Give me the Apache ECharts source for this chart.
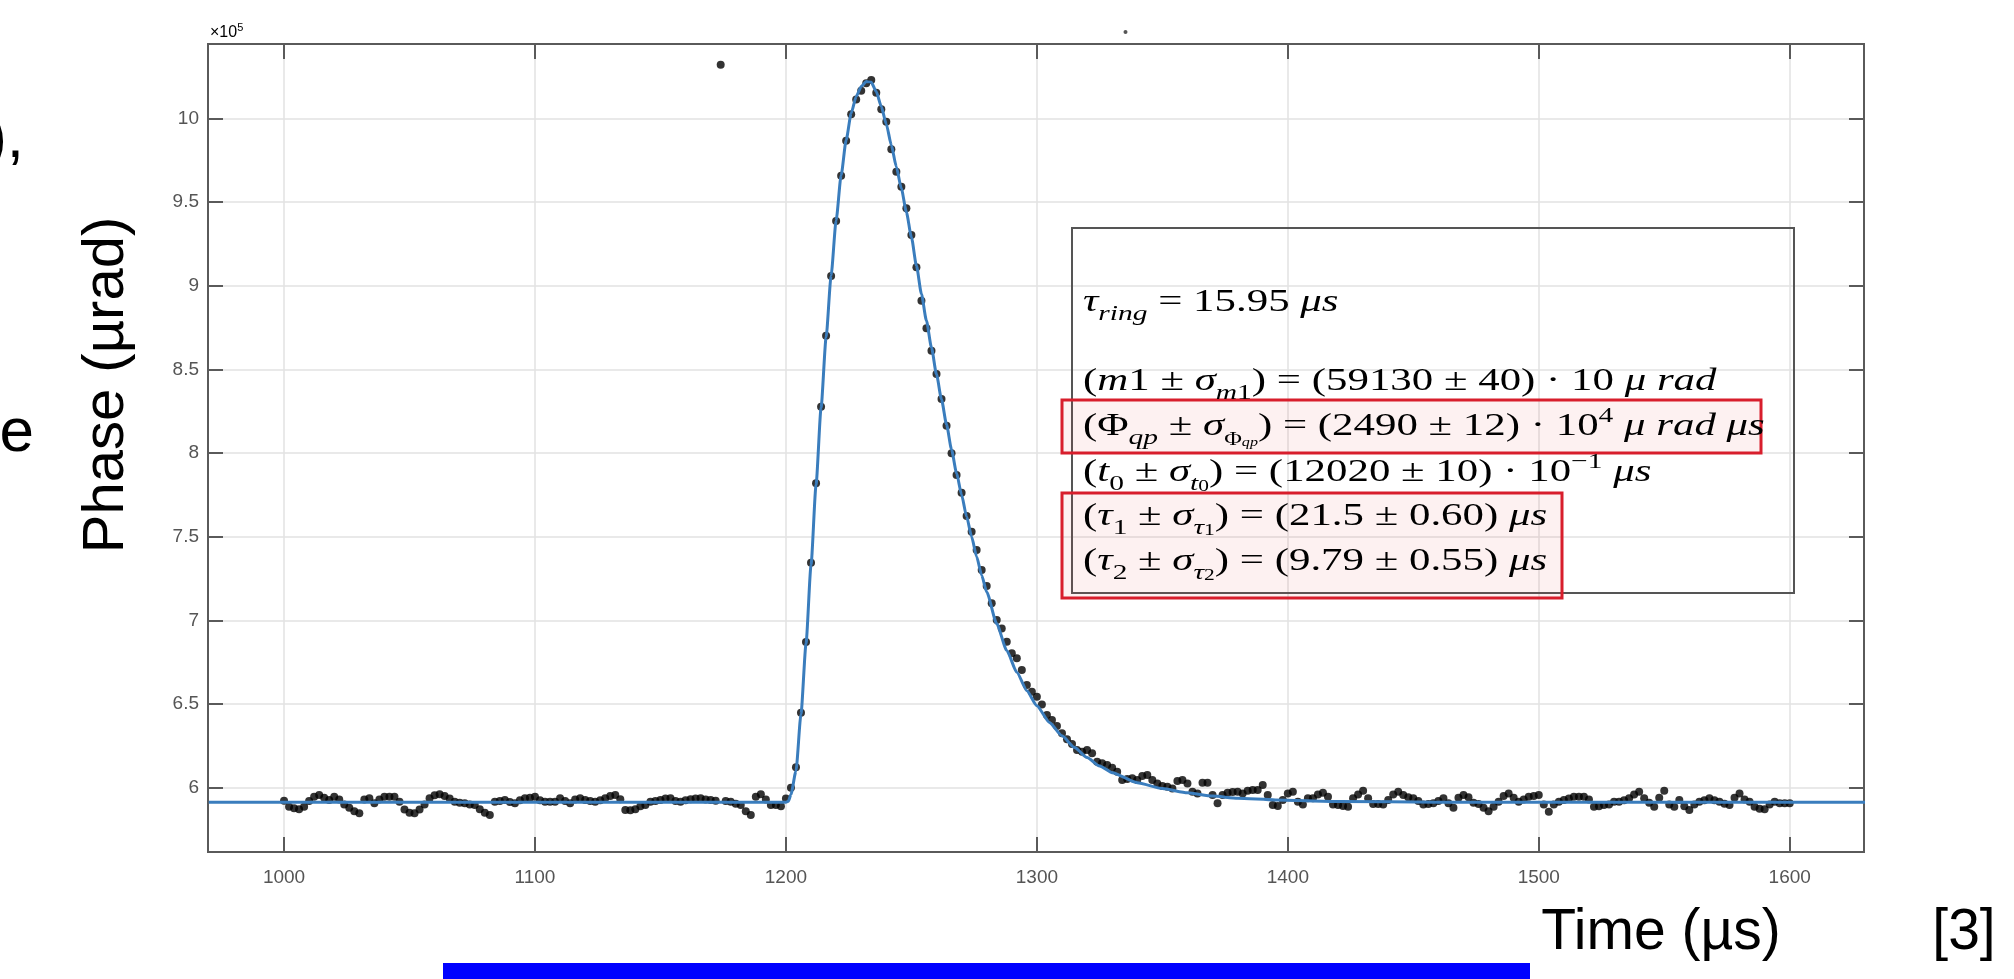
<!DOCTYPE html>
<html>
<head>
<meta charset="utf-8">
<title>Phase vs time</title>
<script src="https://cdn.jsdelivr.net/npm/echarts@6/dist/echarts.min.js"></script>
<style>
  html, body { margin: 0; padding: 0; background: #fff; }
  #chart { width: 2014px; height: 979px; }
</style>
</head>
<body>
<div id="chart"></div>
<script>
// measured phase (units of 1e5 µrad), one sample every 2 µs starting at 1000 µs
const t0 = 1000;
const dt = 2;
const phase = [
  5.922, 5.886, 5.878, 5.871, 5.886, 5.920, 5.946, 5.956, 5.940, 5.927,
  5.946, 5.930, 5.900, 5.880, 5.860, 5.847, 5.930, 5.937, 5.907, 5.930,
  5.946, 5.946, 5.946, 5.916, 5.870, 5.850, 5.847, 5.870, 5.900, 5.937,
  5.955, 5.961, 5.950, 5.935, 5.916, 5.910, 5.907, 5.900, 5.897, 5.871,
  5.850, 5.837, 5.916, 5.920, 5.927, 5.915, 5.907, 5.925, 5.937, 5.940,
  5.946, 5.925, 5.916, 5.916, 5.916, 5.937, 5.920, 5.907, 5.930, 5.937,
  5.927, 5.920, 5.916, 5.925, 5.937, 5.950, 5.956, 5.931, 5.867, 5.865,
  5.871, 5.890, 5.897, 5.916, 5.920, 5.927, 5.935, 5.937, 5.920, 5.916,
  5.925, 5.931, 5.935, 5.937, 5.930, 5.927, 5.922, 10.32, 5.920, 5.916,
  5.905, 5.897, 5.860, 5.837, 5.946, 5.961, 5.930, 5.897, 5.897, 5.890,
  5.935, 6.000, 6.122, 6.448, 6.871, 7.345, 7.819, 8.277, 8.701, 9.058,
  9.386, 9.657, 9.866, 10.024, 10.113, 10.165, 10.209, 10.229, 10.153, 10.054,
  9.980, 9.815, 9.681, 9.591, 9.462, 9.303, 9.110, 8.910, 8.745, 8.611,
  8.472, 8.323, 8.163, 7.998, 7.869, 7.763, 7.624, 7.530, 7.420, 7.301,
  7.205, 7.102, 7.002, 6.952, 6.872, 6.803, 6.773, 6.703, 6.614, 6.574,
  6.544, 6.498, 6.434, 6.405, 6.369, 6.325, 6.289, 6.261, 6.225, 6.215,
  6.225, 6.206, 6.155, 6.146, 6.136, 6.120, 6.096, 6.046, 6.052, 6.056,
  6.046, 6.070, 6.076, 6.046, 6.026, 6.010, 6.006, 5.996, 6.040, 6.046,
  6.026, 5.976, 5.966, 6.030, 6.030, 5.956, 5.907, 5.956, 5.970, 5.974,
  5.976, 5.966, 5.982, 5.986, 5.986, 6.016, 5.956, 5.897, 5.891, 5.927,
  5.966, 5.976, 5.916, 5.900, 5.937, 5.937, 5.960, 5.970, 5.946, 5.900,
  5.897, 5.891, 5.886, 5.937, 5.960, 5.982, 5.937, 5.903, 5.903, 5.900,
  5.927, 5.960, 5.976, 5.956, 5.943, 5.937, 5.920, 5.900, 5.903, 5.907,
  5.920, 5.937, 5.907, 5.880, 5.940, 5.956, 5.943, 5.910, 5.903, 5.880,
  5.860, 5.886, 5.916, 5.950, 5.966, 5.940, 5.916, 5.930, 5.946, 5.950,
  5.956, 5.900, 5.857, 5.900, 5.916, 5.927, 5.935, 5.946, 5.946, 5.946,
  5.930, 5.886, 5.890, 5.897, 5.900, 5.916, 5.916, 5.925, 5.937, 5.960,
  5.976, 5.937, 5.910, 5.886, 5.940, 5.982, 5.900, 5.886, 5.927, 5.890,
  5.867, 5.900, 5.916, 5.925, 5.937, 5.925, 5.916, 5.905, 5.897, 5.940,
  5.966, 5.930, 5.916, 5.886, 5.875, 5.871, 5.900, 5.916, 5.907, 5.907,
  5.907
];

// fitted curve
const fitTime = [970, 1200, 1201, 1202, 1204, 1206, 1208, 1210, 1212, 1214,
  1216, 1218, 1220, 1222, 1224, 1226, 1228, 1230, 1232, 1234,
  1236, 1238, 1240, 1242, 1244, 1246, 1248, 1250, 1252, 1254,
  1256, 1258, 1260, 1262, 1264, 1266, 1268, 1270, 1272, 1274,
  1276, 1278, 1280, 1284, 1288, 1292, 1296, 1300, 1305, 1310,
  1315, 1320, 1325, 1330, 1340, 1350, 1360, 1370, 1380, 1395,
  1420, 1460, 1630];
const fitPhase = [5.913, 5.913, 5.92, 5.96, 6.10, 6.44, 6.86, 7.33, 7.81, 8.27,
  8.69, 9.06, 9.39, 9.66, 9.87, 10.03, 10.13, 10.19, 10.22, 10.215,
  10.16, 10.07, 9.965, 9.84, 9.71, 9.58, 9.44, 9.29, 9.12, 8.95,
  8.79, 8.63, 8.47, 8.32, 8.17, 8.02, 7.88, 7.75, 7.62, 7.50,
  7.38, 7.27, 7.17, 6.98, 6.82, 6.69, 6.58, 6.49, 6.39, 6.31,
  6.24, 6.18, 6.13, 6.09, 6.03, 5.995, 5.97, 5.95, 5.937, 5.927,
  5.918, 5.914, 5.913];

const xTicks = [1000, 1100, 1200, 1300, 1400, 1500, 1600];
const yTicks = [6, 6.5, 7, 7.5, 8, 8.5, 9, 9.5, 10];

const chart = echarts.init(document.getElementById('chart'));

const points = phase.map((v, i) => [t0 + i * dt, v]);
const fit = fitTime.map((t, i) => [t, fitPhase[i]]);

const axisGrey = '#5a5a5a';
const gridGrey = '#e2e2e2';
const labelFont = {color: '#555', fontSize: 19, fontFamily: 'Liberation Sans'};
const serif = 'Liberation Serif';

function tickAxis(pos, ticks, min, max, labels) {
  return {
    type: 'value', min: min, max: max, position: pos,
    axisLine: {show: false},
    axisTick: {show: true, inside: true, length: 15, customValues: ticks,
      lineStyle: {color: axisGrey, width: 2}},
    axisLabel: Object.assign({show: labels, customValues: ticks,
      margin: pos === 'bottom' ? 16 : 9,
      formatter: v => String(Math.round(v * 10) / 10)}, labelFont),
    splitLine: {show: labels, lineStyle: {color: gridGrey, width: 1.5}}
  };
}

// rich styles for the fit-result box (LaTeX-like)
const rich = {
  n: {fontSize: 32, fontFamily: serif, lineHeight: 44, color: '#111'},
  i: {fontSize: 32, fontFamily: serif, fontStyle: 'italic', lineHeight: 44, color: '#111'},
  sb: {fontSize: 22, fontFamily: serif, fontStyle: 'italic', lineHeight: 24, verticalAlign: 'bottom', color: '#111'},
  sbn: {fontSize: 22, fontFamily: serif, lineHeight: 24, verticalAlign: 'bottom', color: '#111'},
  sbs: {fontSize: 18, fontFamily: serif, lineHeight: 22, verticalAlign: 'bottom', color: '#111'},
  ssb: {fontSize: 16, fontFamily: serif, fontStyle: 'italic', lineHeight: 14, verticalAlign: 'bottom', color: '#111'},
  ssbs: {fontSize: 12, fontFamily: serif, fontStyle: 'italic', lineHeight: 10, verticalAlign: 'bottom', color: '#111'},
  ssbn: {fontSize: 16, fontFamily: serif, lineHeight: 14, verticalAlign: 'bottom', color: '#111'},
  sp: {fontSize: 22, fontFamily: serif, lineHeight: 20, verticalAlign: 'top', color: '#111'}
};

const boxLines = [
  [303, '{i|τ}{sb|ring}{n| = 15.95 }{i|μs}'],
  [382, '{n|(}{i|m}{n|1 ± }{i|σ}{sb|m}{sbn|1}{n|) = (59130 ± 40) · 10 }{i|μ rad}'],
  [427, '{n|(Φ}{sb|qp}{n| ± }{i|σ}{sbs|Φ}{ssbs|qp}{n|) = (2490 ± 12) · 10}{sp|4}{n| }{i|μ rad μs}'],
  [473, '{n|(}{i|t}{sbn|0}{n| ± }{i|σ}{sb|t}{ssbn|0}{n|) = (12020 ± 10) · 10}{sp|−1}{n| }{i|μs}'],
  [517, '{n|(}{i|τ}{sbn|1}{n| ± }{i|σ}{sb|τ}{ssbn|1}{n|) = (21.5 ± 0.60) }{i|μs}'],
  [562, '{n|(}{i|τ}{sbn|2}{n| ± }{i|σ}{sb|τ}{ssbn|2}{n|) = (9.79 ± 0.55) }{i|μs}']
];

const graphics = [
  // fit result box
  {type: 'rect', shape: {x: 1072, y: 228, width: 722, height: 365},
    style: {fill: 'none', stroke: '#555', lineWidth: 2}, z: 10},
  {type: 'rect', shape: {x: 1062, y: 400, width: 699, height: 53},
    style: {fill: 'rgba(230,60,60,0.07)', stroke: '#d81e2c', lineWidth: 3}, z: 11},
  {type: 'rect', shape: {x: 1062, y: 493, width: 500, height: 105},
    style: {fill: 'rgba(230,60,60,0.07)', stroke: '#d81e2c', lineWidth: 3}, z: 11},
  // axis exponent
  {type: 'text', x: 210, y: 33, z: 10,
    style: {text: '{a|×10}{b|5}', verticalAlign: 'middle',
      rich: {a: {fontSize: 16, fontFamily: 'Liberation Sans', color: '#555', lineHeight: 22},
             b: {fontSize: 11, fontFamily: 'Liberation Sans', color: '#555', lineHeight: 12, verticalAlign: 'top'}}}},
  // slide texts
  {type: 'text', x: 107, y: 385, rotation: Math.PI / 2, z: 10,
    style: {text: 'Phase (µrad)', font: '58px "Liberation Sans"', fill: '#000', align: 'center', verticalAlign: 'middle'}},
  {type: 'text', x: 1661, y: 933, z: 10,
    style: {text: 'Time (µs)', font: '57px "Liberation Sans"', fill: '#000', align: 'center', verticalAlign: 'middle'}},
  {type: 'text', x: 1964, y: 933, z: 10,
    style: {text: '[3]', font: '57px "Liberation Sans"', fill: '#000', align: 'center', verticalAlign: 'middle'}},
  {type: 'text', x: 24, y: 140, z: 10,
    style: {text: '),', font: '62px "Liberation Sans"', fill: '#000', align: 'right', verticalAlign: 'middle'}},
  {type: 'text', x: 34, y: 434, z: 10,
    style: {text: 'e', font: '62px "Liberation Sans"', fill: '#000', align: 'right', verticalAlign: 'middle'}},
  {type: 'rect', shape: {x: 443, y: 963, width: 1087, height: 16}, style: {fill: '#0000ff'}, z: 10},
  {type: 'circle', shape: {cx: 1125.5, cy: 32, r: 2}, style: {fill: '#555'}, z: 10}
];
boxLines.forEach(l => {
  graphics.push({type: 'text', x: 1083, y: l[0], scaleX: 1.34, z: 12,
    style: {text: l[1], rich: rich, verticalAlign: 'middle', align: 'left'}});
});

chart.setOption({
  animation: false,
  backgroundColor: '#fff',
  grid: {left: 208, right: 150, top: 44, bottom: 127, show: true,
    borderColor: axisGrey, borderWidth: 2, backgroundColor: 'transparent'},
  xAxis: [tickAxis('bottom', xTicks, 969.7, 1629.6, true),
          tickAxis('top', xTicks, 969.7, 1629.6, false)],
  yAxis: [tickAxis('left', yTicks, 5.616, 10.444, true),
          tickAxis('right', yTicks, 5.616, 10.444, false)],
  graphic: graphics,
  series: [
    {type: 'scatter', data: points, symbolSize: 8, itemStyle: {color: '#000'}, z: 2},
    {type: 'line', data: fit, showSymbol: false, smooth: 0.2, smoothMonotone: 'x',
      lineStyle: {color: '#3a7dbd', width: 3}, z: 3}
  ]
});
</script>
</body>
</html>
